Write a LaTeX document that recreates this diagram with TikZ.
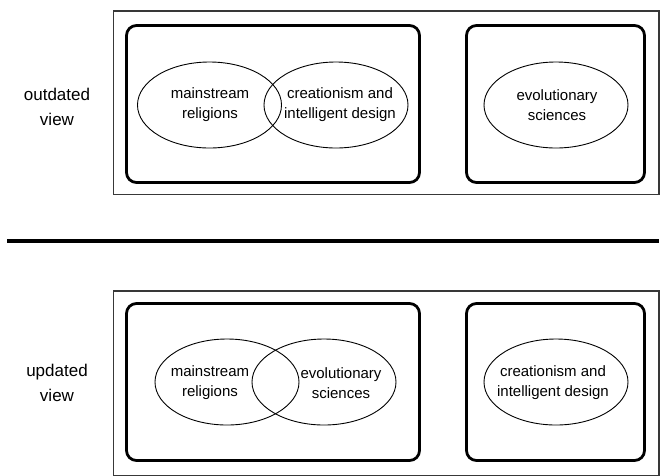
\documentclass[tikz,border=0pt]{standalone}
\usepackage{fontspec}
\setmainfont{Liberation Sans}
\usetikzlibrary{shapes.geometric}
\begin{document}
\begin{tikzpicture}[x=1pt,y=-1pt,
  outerbox/.style={draw=black!78, line width=1.3pt},
  groupbox/.style={draw=black, line width=2.8pt, rounded corners=10pt},
  setshape/.style={draw=black, line width=0.9pt, ellipse, inner sep=0pt,
    minimum width=144pt, minimum height=86pt},
  settext/.style={align=center, inner sep=0pt, font=\fontsize{15}{20}\selectfont},
  sidelabel/.style={align=center, inner sep=0pt, font=\fontsize{17}{25}\selectfont},
  divider/.style={draw=black, line width=4.5pt}]
\useasboundingbox (0,0) rectangle (664,475);
\clip (0,0) rectangle (664,475);

% ---------- top panel ----------
\node[sidelabel] (lblTop) at (57,107) {outdated\\view};
\draw[outerbox] (113.5,11) rectangle (659,194.5);
\draw[groupbox] (126.5,25.5) rectangle (419.5,182.5);
\draw[groupbox] (466.5,25.5) rectangle (644.5,182.5);
\node[setshape] (topA) at (209.5,105) {};
\node[setshape] (topB) at (336,105) {};
\node[setshape] (topC) at (556,105) {};
\node[settext] (topAt) at (210,105) {mainstream\\religions};
\node[settext] (topBt) at (340,105) {creationism and\\intelligent design};
\node[settext] (topCt) at (557,105) {evolutionary\\sciences};

% ---------- divider ----------
\coordinate (divL) at (7,241);
\coordinate (divR) at (659,241);
\draw[divider] (divL) -- (divR);

% ---------- bottom panel ----------
\node[sidelabel] (lblBot) at (57,383) {updated\\view};
\draw[outerbox] (113.5,291) rectangle (659,476);
\draw[groupbox] (126.5,303.5) rectangle (419.5,460.5);
\draw[groupbox] (466.5,303.5) rectangle (644.5,460.5);
\node[setshape] (botA) at (227,382) {};
\node[setshape] (botB) at (324,382) {};
\node[setshape] (botC) at (556,382) {};
\node[settext] (botAt) at (210,383) {mainstream\\religions};
\node[settext] (botBt) at (341,383) {evolutionary\\sciences};
\node[settext] (botCt) at (553,383) {creationism and\\intelligent design};
\end{tikzpicture}
\end{document}
